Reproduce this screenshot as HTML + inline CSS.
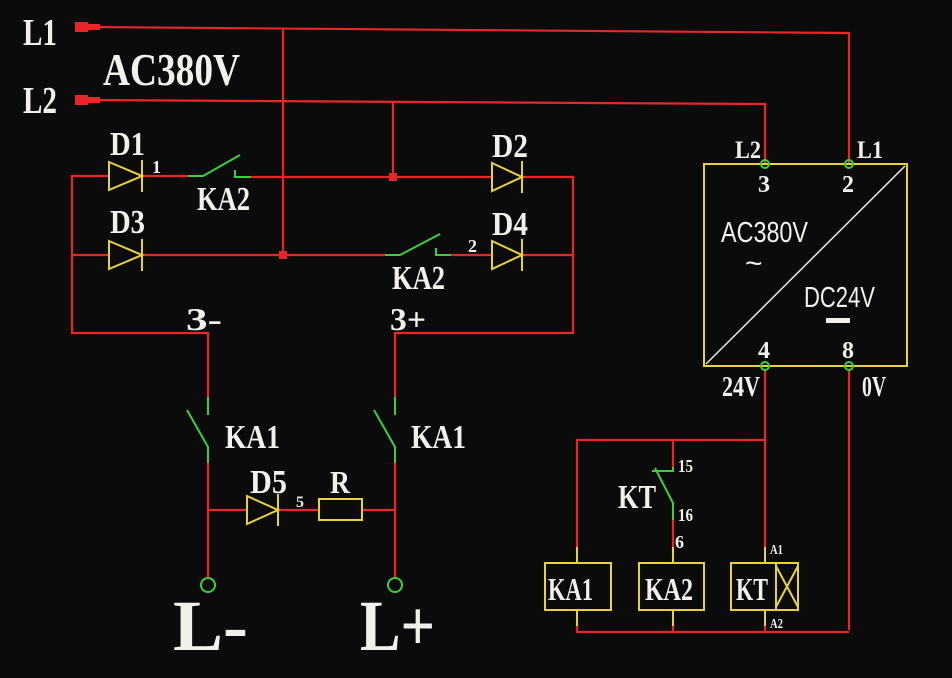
<!DOCTYPE html>
<html><head><meta charset="utf-8"><style>
html,body{margin:0;padding:0;background:#0b0b0c;}
svg{display:block}
text{font-family:"Liberation Serif",serif;font-weight:bold;fill:#f2f0ea;}
.s{font-family:"Liberation Sans",sans-serif;font-weight:normal;}
</style></head><body>
<svg width="952" height="678" viewBox="0 0 952 678" xmlns="http://www.w3.org/2000/svg">
<rect width="952" height="678" fill="#0b0b0c"/>
<g stroke="#e8262a" stroke-width="2.2" fill="none">
<!-- L1, L2 -->
<polyline points="88,27 849,33 849,164"/>
<polyline points="88,100 765,104 765,164"/>
<line x1="283" y1="28" x2="283" y2="255"/>
<line x1="393" y1="102" x2="393" y2="177"/>
<!-- row1 -->
<polyline points="109,176 72,176 72,333 208,333 208,397"/>
<line x1="142" y1="176" x2="188" y2="176"/>
<line x1="251" y1="177" x2="492" y2="177"/>
<polyline points="522,177 573,177 573,333 395,333 395,397"/>
<!-- row2 -->
<line x1="72" y1="255" x2="109" y2="255"/>
<line x1="142" y1="255" x2="385" y2="255"/>
<line x1="451" y1="255" x2="492" y2="255"/>
<line x1="522" y1="255" x2="573" y2="255"/>
<!-- bottom branches -->
<line x1="208" y1="463" x2="208" y2="577"/>
<line x1="395" y1="463" x2="395" y2="577"/>
<line x1="208" y1="510" x2="247" y2="510"/>
<line x1="278" y1="510" x2="319" y2="510"/>
<line x1="362" y1="510" x2="395" y2="510"/>
<!-- DC side -->
<line x1="765" y1="370" x2="765" y2="547"/>
<line x1="849" y1="370" x2="849" y2="630"/>
<polyline points="765,440 577,440 577,547"/>
<line x1="673" y1="440" x2="673" y2="467"/>
<line x1="673" y1="520" x2="673" y2="547"/>
<polyline points="577,626 577,632 849,632"/>
<line x1="673" y1="626" x2="673" y2="632"/>
<line x1="765" y1="626" x2="765" y2="632"/>
</g>
<!-- arrows -->
<g fill="#e8262a">
<rect x="75" y="22" width="13" height="10"/><rect x="86" y="24" width="14" height="6"/>
<rect x="75" y="95" width="13" height="10"/><rect x="86" y="97" width="14" height="6"/>
<rect x="279" y="251" width="8" height="8"/>
<rect x="389" y="173" width="8" height="8"/>
</g>
<!-- diodes -->
<g stroke="#e8d23a" stroke-width="2" fill="none">
<polygon points="109,162 142,176 109,190"/><line x1="142" y1="160" x2="142" y2="192"/>
<polygon points="109,241 142,255 109,269"/><line x1="142" y1="239" x2="142" y2="271"/>
<polygon points="492,163 522,177 492,191"/><line x1="522" y1="161" x2="522" y2="193"/>
<polygon points="492,241 522,255 492,269"/><line x1="522" y1="239" x2="522" y2="271"/>
<polygon points="247,496 278,510 247,524"/><line x1="278" y1="494" x2="278" y2="526"/>
<rect x="319" y="499" width="43" height="21"/>
<!-- box -->
<rect x="704" y="164" width="203" height="202"/>
<rect x="545" y="563" width="66" height="47"/>
<rect x="639" y="563" width="65" height="47"/>
<rect x="731" y="563" width="45" height="47"/>
<rect x="776" y="563" width="22" height="47"/>
<line x1="776" y1="566" x2="798" y2="607"/><line x1="798" y1="566" x2="776" y2="607"/>
<line x1="577" y1="547" x2="577" y2="563"/><line x1="577" y1="610" x2="577" y2="626"/>
<line x1="673" y1="547" x2="673" y2="563"/><line x1="673" y1="610" x2="673" y2="626"/>
<line x1="765" y1="547" x2="765" y2="563"/><line x1="765" y1="610" x2="765" y2="626"/>
</g>
<line x1="706" y1="364" x2="905" y2="166" stroke="#e8e8e8" stroke-width="1.5"/>
<!-- switches -->
<g stroke="#3ccf3c" stroke-width="2" fill="none">
<polyline points="188,176 203,176 240,155"/><polyline points="235,170 235,177 251,177"/>
<polyline points="385,255 400,255 440,234"/><polyline points="436,248 436,255 451,255"/>
<line x1="208" y1="397" x2="208" y2="415"/><polyline points="187,410 208,447 208,463"/>
<line x1="395" y1="397" x2="395" y2="415"/><polyline points="374,410 395,447 395,463"/>
<polyline points="673,467 673,471 652,471"/><polyline points="655,468 673,503 673,520"/>
<circle cx="208" cy="585" r="7"/><circle cx="395" cy="585" r="7"/>
<circle cx="765" cy="164" r="4"/><circle cx="849" cy="164" r="4"/>
<circle cx="765" cy="366" r="4"/><circle cx="849" cy="366" r="4"/>
</g>
<line x1="208" y1="577" x2="208" y2="578" stroke="#e8262a"/>
<!-- labels -->
<text x="23" y="45" font-size="38" textLength="34" lengthAdjust="spacingAndGlyphs">L1</text>
<text x="23" y="113" font-size="38" textLength="34" lengthAdjust="spacingAndGlyphs">L2</text>
<text x="103" y="85" font-size="46" textLength="137" lengthAdjust="spacingAndGlyphs">AC380V</text>
<text x="110" y="155" font-size="34" textLength="35" lengthAdjust="spacingAndGlyphs">D1</text>
<text x="110" y="233" font-size="34" textLength="35" lengthAdjust="spacingAndGlyphs">D3</text>
<text x="492" y="157" font-size="34" textLength="36" lengthAdjust="spacingAndGlyphs">D2</text>
<text x="492" y="235" font-size="34" textLength="36" lengthAdjust="spacingAndGlyphs">D4</text>
<text x="152" y="173" font-size="18">1</text>
<text x="468" y="252" font-size="18">2</text>
<text x="197" y="210" font-size="34" textLength="53" lengthAdjust="spacingAndGlyphs">KA2</text>
<text x="392" y="289" font-size="34" textLength="53" lengthAdjust="spacingAndGlyphs">KA2</text>
<text x="186" y="330" font-size="32" textLength="36" lengthAdjust="spacingAndGlyphs">3-</text>
<text x="390" y="330" font-size="32" textLength="36" lengthAdjust="spacingAndGlyphs">3+</text>
<text x="225" y="448" font-size="34" textLength="55" lengthAdjust="spacingAndGlyphs">KA1</text>
<text x="411" y="448" font-size="34" textLength="55" lengthAdjust="spacingAndGlyphs">KA1</text>
<text x="250" y="493" font-size="34" textLength="37" lengthAdjust="spacingAndGlyphs">D5</text>
<text x="330" y="493" font-size="32" textLength="20" lengthAdjust="spacingAndGlyphs">R</text>
<text x="296" y="507" font-size="16">5</text>
<text x="173" y="650" font-size="72" textLength="75" lengthAdjust="spacingAndGlyphs">L-</text>
<text x="360" y="650" font-size="72" textLength="75" lengthAdjust="spacingAndGlyphs">L+</text>
<text x="735" y="158" font-size="25" textLength="26" lengthAdjust="spacingAndGlyphs">L2</text>
<text x="857" y="158" font-size="25" textLength="26" lengthAdjust="spacingAndGlyphs">L1</text>
<text x="758" y="192" font-size="24">3</text>
<text x="842" y="192" font-size="24">2</text>
<text x="758" y="358" font-size="24">4</text>
<text x="842" y="358" font-size="24">8</text>
<text class="s" x="721" y="242" font-size="29" textLength="87" lengthAdjust="spacingAndGlyphs">AC380V</text>
<text class="s" x="745" y="273" font-size="30">~</text>
<text class="s" x="804" y="307" font-size="29" textLength="71" lengthAdjust="spacingAndGlyphs">DC24V</text>
<rect x="826" y="318" width="24" height="5" fill="#f2f0ea"/>
<text x="722" y="396" font-size="28" textLength="38" lengthAdjust="spacingAndGlyphs">24V</text>
<text x="862" y="396" font-size="28" textLength="24" lengthAdjust="spacingAndGlyphs">0V</text>
<text x="618" y="508" font-size="34" textLength="38" lengthAdjust="spacingAndGlyphs">KT</text>
<text x="678" y="472" font-size="18" textLength="15" lengthAdjust="spacingAndGlyphs">15</text>
<text x="678" y="521" font-size="18" textLength="15" lengthAdjust="spacingAndGlyphs">16</text>
<text x="675" y="548" font-size="18">6</text>
<text x="548" y="600" font-size="32" textLength="45" lengthAdjust="spacingAndGlyphs">KA1</text>
<text x="645" y="600" font-size="32" textLength="48" lengthAdjust="spacingAndGlyphs">KA2</text>
<text x="736" y="600" font-size="32" textLength="32" lengthAdjust="spacingAndGlyphs">KT</text>
<text x="770" y="554" font-size="14" textLength="13" lengthAdjust="spacingAndGlyphs">A1</text>
<text x="770" y="628" font-size="14" textLength="13" lengthAdjust="spacingAndGlyphs">A2</text>
</svg>
</body></html>
